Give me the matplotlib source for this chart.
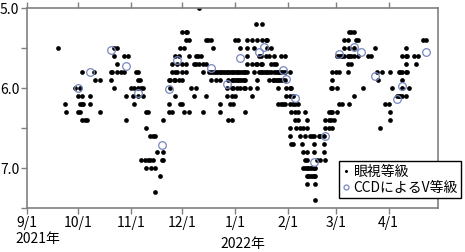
import numpy as np
import matplotlib
matplotlib.use('Agg')
import matplotlib.pyplot as plt

# 眼視観測: 等級ごとの観測日 (2021/9/1 からの経過日数)
vis_mags = [5.0, 5.2, 5.3, 5.4, 5.5, 5.6, 5.7, 5.8, 5.9, 6.0, 6.1, 6.2, 6.3,
            6.4, 6.5, 6.6, 6.7, 6.8, 6.9, 7.0, 7.1, 7.2, 7.3, 7.4]
vis_days = [
    [101],
    [134, 138],
    [91, 93, 94, 189, 190, 192],
    [93, 95, 105, 106, 108, 122, 124, 129, 132, 135, 138, 140, 141, 186, 188,
     193, 194, 232, 234],
    [18, 51, 53, 90, 92, 109, 125, 129, 133, 141, 143, 186, 189, 192, 204, 222],
    [51, 57, 59, 87, 89, 95, 99, 100, 102, 129, 136, 137, 140, 142, 145, 149,
     151, 182, 183, 184, 185, 186, 188, 189, 190, 192, 194, 200, 202, 220, 222,
     223, 227, 229],
    [53, 85, 88, 91, 93, 98, 99, 101, 103, 105, 129, 132, 134, 135, 137, 138,
     143, 145, 146, 188, 190, 222, 228],
    [32, 39, 49, 50, 53, 55, 57, 64, 65, 85, 87, 88, 91, 93, 103, 107, 108,
     109, 110, 111, 112, 113, 114, 115, 116, 117, 118, 119, 120, 121, 122, 123,
     124, 125, 126, 127, 128, 129, 133, 136, 137, 138, 139, 140, 141, 142, 143,
     145, 146, 147, 148, 149, 150, 151, 154, 179, 181, 183, 188, 205, 208, 213,
     218, 219, 220, 222, 223],
    [40, 43, 49, 65, 66, 83, 84, 86, 87, 89, 91, 108, 111, 113, 118, 120, 121,
     122, 123, 124, 125, 126, 127, 128, 135, 142, 144, 145, 146, 147, 148, 149,
     150, 151, 179, 206, 220],
    [28, 31, 51, 61, 63, 65, 67, 68, 84, 96, 99, 117, 120, 121, 123, 125, 127,
     128, 131, 135, 147, 152, 154, 155, 178, 179, 182, 197, 214, 220, 224],
    [30, 32, 37, 58, 62, 65, 68, 87, 98, 105, 117, 120, 122, 132, 152, 154,
     156, 192, 217, 218, 219, 220, 222],
    [22, 31, 32, 33, 37, 63, 83, 90, 91, 113, 119, 121, 147, 149, 150, 151,
     154, 156, 157, 159, 183, 185, 189, 210, 212],
    [23, 30, 31, 43, 70, 71, 83, 85, 92, 95, 103, 113, 128, 155, 157, 159, 163,
     177, 178, 179, 182, 213],
    [32, 34, 35, 58, 80, 118, 120, 157, 159, 164, 175, 177, 178, 180, 213],
    [70, 154, 158, 160, 162, 164, 175, 177, 179, 207],
    [72, 74, 75, 154, 160, 163, 166, 167, 168, 171, 172, 174],
    [155, 156, 161, 168, 174],
    [76, 80, 162, 164, 168, 174],
    [67, 69, 71, 72, 74, 79, 80, 163, 164, 170, 172, 175],
    [70, 73, 75, 162, 163, 164, 165, 166, 167, 168, 169],
    [78, 164, 165, 166, 167, 168, 169],
    [164, 169],
    [75],
    [169],
]

# CCD による V 等級
ccd_days = [30, 37, 49, 58, 65, 79, 83, 88, 108, 117, 125, 136, 139, 150, 152,
            157, 168, 175, 183, 192, 196, 204, 217, 220, 234]
ccd_mags = [6.00, 5.80, 5.52, 5.72, 6.06, 6.71, 6.01, 5.65, 5.75, 5.95, 5.63,
            5.55, 5.49, 5.78, 5.89, 6.12, 6.93, 6.60, 5.58, 5.49, 5.55, 5.85,
            6.14, 5.98, 5.55]

tick_dates = ['2021-09-01', '2021-10-01', '2021-11-01', '2021-12-01',
              '2022-01-01', '2022-02-01', '2022-03-01', '2022-04-01']
tick_labels = ['9/1', '10/1', '11/1', '12/1', '1/1', '2/1', '3/1', '4/1']

plt.rcParams['font.family'] = ['Noto Sans CJK JP', 'DejaVu Sans']

start = np.datetime64('2021-09-01')
vx, vy = [], []
for m, days in zip(vis_mags, vis_days):
    vx += days
    vy += [m] * len(days)
vx = start + np.array(vx).astype('timedelta64[D]')
cx = start + np.array(ccd_days).astype('timedelta64[D]')

fig = plt.figure(figsize=(4.65, 2.52), dpi=100)
ax = fig.add_axes([27 / 465, 1 - 208 / 252, 411 / 465, 200 / 252])

h1, = ax.plot(vx, vy, 'o', ms=3.4, color='black', mec='none', label='眼視等級')
h2, = ax.plot(cx, ccd_mags, 'o', ms=5.5, mfc='none', mec='#7888c0', mew=0.9,
              label='CCDによるV等級', zorder=3)

ax.set_xlim(start, start + np.timedelta64(241, 'D'))
ax.set_ylim(7.5, 5.0)
ax.set_yticks([5.0, 5.5, 6.0, 6.5, 7.0, 7.5])
ax.set_yticklabels(['5.0', '', '6.0', '', '7.0', ''])
ax.set_xticks(np.array(tick_dates, dtype='datetime64[D]'))
ax.set_xticklabels(tick_labels)

for s in ax.spines.values():
    s.set_color('#808080')
    s.set_linewidth(1.2)
ax.tick_params(axis='both', direction='out', length=4, width=1, color='#808080',
               labelsize=10, pad=1.5)
ax.tick_params(axis='x', top=True, pad=2)

fig.text(15 / 465, 1 - 239 / 252, '2021年', fontsize=10, ha='left', va='center')
fig.text(243 / 465, 1 - 244 / 252, '2022年', fontsize=10, ha='center', va='center')

leg = ax.legend(handles=[h1, h2], loc='upper left', bbox_to_anchor=(339 / 465, 1 - 161 / 252),
                bbox_transform=fig.transFigure, fontsize=10, frameon=True,
                fancybox=False, framealpha=1, edgecolor='black', markerscale=0.65,
                handlelength=0.5, handletextpad=0.3, borderpad=0.25,
                labelspacing=0.15, borderaxespad=0)
leg.get_frame().set_linewidth(1.0)

fig.savefig('out.png', dpi=100)
